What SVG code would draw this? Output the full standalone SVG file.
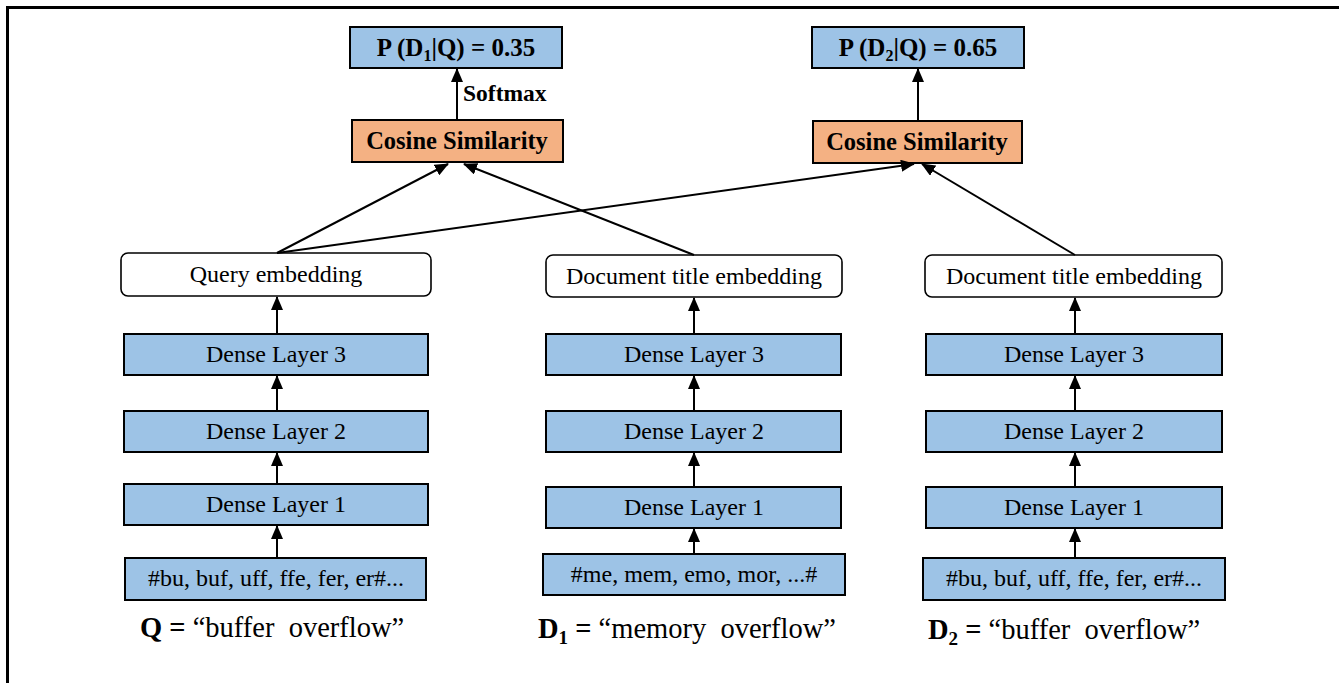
<svg xmlns="http://www.w3.org/2000/svg" width="1339" height="683" viewBox="0 0 1339 683">
<style>
.blue{fill:#9DC3E6;stroke:#000;stroke-width:2}
.orange{fill:#F4B183;stroke:#000;stroke-width:2}
.emb{fill:#fff;stroke:#000;stroke-width:1.6}
.t{font-family:"Liberation Serif","Times New Roman",serif;font-size:24px;fill:#000;text-anchor:middle}
.b{font-family:"Liberation Serif","Times New Roman",serif;font-size:24.5px;font-weight:bold;fill:#000;text-anchor:middle}
.lbl{font-family:"Liberation Serif","Times New Roman",serif;font-size:28.5px;fill:#000;white-space:pre}
.conn line{stroke:#000;stroke-width:2;marker-end:url(#ah)}
</style>
<defs>
<marker id="ah" markerUnits="userSpaceOnUse" markerWidth="14" markerHeight="12" refX="13" refY="6" orient="auto">
<path d="M0,0 L14,6 L0,12 z" fill="#000"/>
</marker>
</defs>
<rect x="0" y="0" width="1339" height="683" fill="#fff"/>
<path d="M7.5,683 V7.5 H1339" fill="none" stroke="#000" stroke-width="3"/>

<g id="p1"><rect class="blue" x="350" y="27" width="212" height="41"/><text class="b" x="456" y="56" style="font-size:25px">P (D<tspan font-size="16" dy="5">1</tspan><tspan dy="-5">|Q) = 0.35</tspan></text></g>
<g id="p2"><rect class="blue" x="812" y="27" width="212" height="41"/><text class="b" x="918" y="56" style="font-size:25px">P (D<tspan font-size="16" dy="5">2</tspan><tspan dy="-5">|Q) = 0.65</tspan></text></g>
<g id="cos1"><rect class="orange" x="352" y="120" width="211" height="42"/><text class="b" x="457" y="149">Cosine Similarity</text></g>
<g id="cos2"><rect class="orange" x="813" y="121" width="209" height="42"/><text class="b" x="917" y="150">Cosine Similarity</text></g>
<g id="softmax"><text class="b" x="463" y="101" style="text-anchor:start;font-size:23.5px">Softmax</text></g>

<g id="qemb"><rect class="emb" x="121" y="253" width="310" height="43" rx="7"/><text class="t" x="276" y="282">Query embedding</text></g>
<g id="q3"><rect class="blue" x="124" y="334" width="304" height="41"/><text class="t" x="276" y="362">Dense Layer 3</text></g>
<g id="q2"><rect class="blue" x="124" y="411" width="304" height="41"/><text class="t" x="276" y="439">Dense Layer 2</text></g>
<g id="q1"><rect class="blue" x="124" y="484" width="304" height="41"/><text class="t" x="276" y="512">Dense Layer 1</text></g>
<g id="qin"><rect class="blue" x="125" y="558" width="301" height="42"/><text class="t" x="276" y="586">#bu, buf, uff, ffe, fer, er#...</text></g>
<g id="qlbl"><text class="lbl" x="140" y="637"><tspan font-weight="bold">Q =</tspan> “buffer  overflow”</text></g>

<g id="d1emb"><rect class="emb" x="546" y="255" width="296" height="42" rx="7"/><text class="t" x="694" y="284">Document title embedding</text></g>
<g id="d13"><rect class="blue" x="546" y="334" width="295" height="41"/><text class="t" x="694" y="362">Dense Layer 3</text></g>
<g id="d12"><rect class="blue" x="546" y="411" width="295" height="41"/><text class="t" x="694" y="439">Dense Layer 2</text></g>
<g id="d11"><rect class="blue" x="546" y="487" width="295" height="41"/><text class="t" x="694" y="515">Dense Layer 1</text></g>
<g id="d1in"><rect class="blue" x="543" y="554" width="302" height="41"/><text class="t" x="694" y="582">#me, mem, emo, mor, ...#</text></g>
<g id="d1lbl"><text class="lbl" x="538" y="638"><tspan font-weight="bold">D<tspan font-size="19" dy="6">1</tspan><tspan dy="-6"> =</tspan></tspan> “memory  overflow”</text></g>

<g id="d2emb"><rect class="emb" x="925" y="255" width="297" height="42" rx="7"/><text class="t" x="1074" y="284">Document title embedding</text></g>
<g id="d23"><rect class="blue" x="926" y="334" width="296" height="41"/><text class="t" x="1074" y="362">Dense Layer 3</text></g>
<g id="d22"><rect class="blue" x="926" y="411" width="296" height="41"/><text class="t" x="1074" y="439">Dense Layer 2</text></g>
<g id="d21"><rect class="blue" x="926" y="487" width="296" height="41"/><text class="t" x="1074" y="515">Dense Layer 1</text></g>
<g id="d2in"><rect class="blue" x="923" y="558" width="302" height="42"/><text class="t" x="1074" y="586">#bu, buf, uff, ffe, fer, er#...</text></g>
<g id="d2lbl"><text class="lbl" x="928" y="639"><tspan font-weight="bold">D<tspan font-size="19" dy="6">2</tspan><tspan dy="-6"> =</tspan></tspan> “buffer  overflow”</text></g>

<g id="connectors" class="conn">
<line x1="457" y1="120" x2="457" y2="69"/>
<line x1="918" y1="121" x2="918" y2="69"/>
<line x1="277" y1="253" x2="448" y2="164"/>
<line x1="277" y1="253" x2="914" y2="164"/>
<line x1="694" y1="255" x2="464" y2="164"/>
<line x1="1075" y1="255" x2="922" y2="164"/>
<line x1="277" y1="334" x2="277" y2="297"/>
<line x1="277" y1="411" x2="277" y2="376"/>
<line x1="277" y1="484" x2="277" y2="453"/>
<line x1="277" y1="558" x2="277" y2="526"/>
<line x1="694" y1="334" x2="694" y2="298"/>
<line x1="694" y1="411" x2="694" y2="376"/>
<line x1="694" y1="487" x2="694" y2="453"/>
<line x1="694" y1="554" x2="694" y2="529"/>
<line x1="1075" y1="334" x2="1075" y2="298"/>
<line x1="1075" y1="411" x2="1075" y2="376"/>
<line x1="1075" y1="487" x2="1075" y2="453"/>
<line x1="1075" y1="558" x2="1075" y2="529"/>
</g>
</svg>
